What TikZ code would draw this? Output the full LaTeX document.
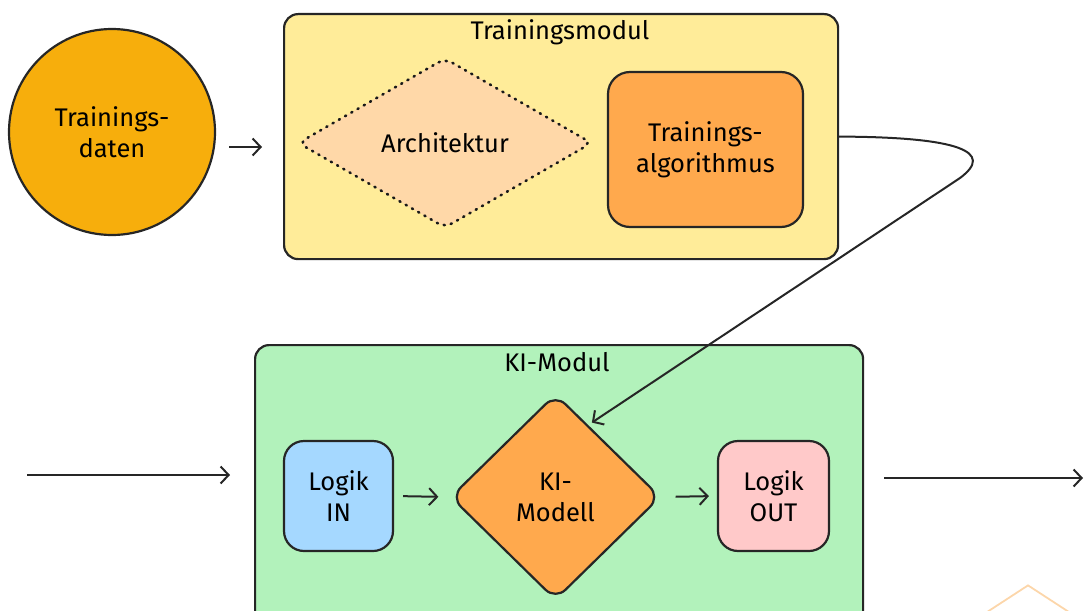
\documentclass[tikz,border=0pt]{standalone}
\usepackage{fontspec}
\setmainfont{Fira Sans}
\usetikzlibrary{shapes.geometric,arrows.meta}
\definecolor{datenorange}{RGB}{247,174,12}
\definecolor{trainyellow}{RGB}{255,236,153}
\definecolor{archpeach}{RGB}{255,216,168}
\definecolor{algoorange}{RGB}{255,169,77}
\definecolor{kigreen}{RGB}{178,242,187}
\definecolor{inblue}{RGB}{165,216,255}
\definecolor{outpink}{RGB}{255,201,201}
\definecolor{faintpeach}{RGB}{252,214,170}
\tikzset{
  box/.style={draw=black!85, line width=2.2pt, rounded corners=14pt},
  lbl/.style={align=center, font=\fontsize{25.5}{31}\selectfont},
  arr/.style={-{Straight Barb[length=8pt,width=17pt]}, line width=2pt, draw=black!85},
}

\begin{document}
\begin{tikzpicture}[x=1pt, y=-1pt]
\clip (0,0) rectangle (1086,610);
% Trainingsmodul
\node[box, fill=trainyellow, minimum width=554pt, minimum height=245pt, anchor=north west] (tmod) at (283,13) {};
\node[lbl] (tmodtitle) at (560,32) {Trainingsmodul};
\node[circle, draw=black!85, line width=2.2pt, fill=datenorange, minimum size=206pt, lbl] (daten) at (112,132) {Trainings-\\daten};
\node[diamond, draw=black!90, line width=2.6pt, dash pattern=on 1.2pt off 6pt, line cap=round,
  fill=archpeach, minimum width=294pt, minimum height=170pt, rounded corners=8pt, lbl] (arch) at (445,143) {Architektur};
\node[box, fill=algoorange, minimum width=195pt, minimum height=155pt, rounded corners=22pt, lbl] (algo) at (705.5,149.5) {Trainings-\\algorithmus};

% KI-Modul
\node[box, fill=kigreen, minimum width=608pt, minimum height=300pt, anchor=north west] (kimod) at (254,344) {};
\node[lbl] (kimodtitle) at (557,362) {KI-Modul};
\node[box, fill=inblue, minimum width=109pt, minimum height=110pt, rounded corners=20pt, lbl] (login) at (338.5,496) {Logik\\IN};
\node[diamond, draw=black!85, line width=2.2pt, fill=algoorange, minimum width=210pt, minimum height=206pt,
  rounded corners=14pt, lbl] (kimodell) at (555.5,497) {KI-\\Modell};
\node[box, fill=outpink, minimum width=111pt, minimum height=110pt, rounded corners=20pt, lbl] (logout) at (773.5,496) {Logik\\OUT};
\node[diamond, draw=faintpeach, line width=1.8pt, minimum width=230pt, minimum height=150pt] (rest) at (1028,660) {};

% connectors
\coordinate (eingang) at (27,475);
\coordinate (ausgang) at (1083,478);
\coordinate (knick) at (960,178);
\draw[arr] (tmod.east) .. controls (960,137) and (995,152) .. (knick) -- ([shift={(2pt,4pt)}]kimodell.64);
\draw[arr, shorten <=13pt, shorten >=21pt] ([yshift=-15pt]daten.east) -- ([yshift=-15pt]daten.east -| tmod.west);
\draw[arr, shorten >=24pt] (eingang) -- (eingang -| kimod.west);
\draw[arr, shorten <=20pt] (kimod.east |- ausgang) -- (ausgang);
\draw[arr, shorten <=9pt, shorten >=11pt] (login.east) -- (kimodell.west);
\draw[arr, shorten <=14pt, shorten >=8pt] (kimodell.east) -- (logout.west);
\end{tikzpicture}
\end{document}
